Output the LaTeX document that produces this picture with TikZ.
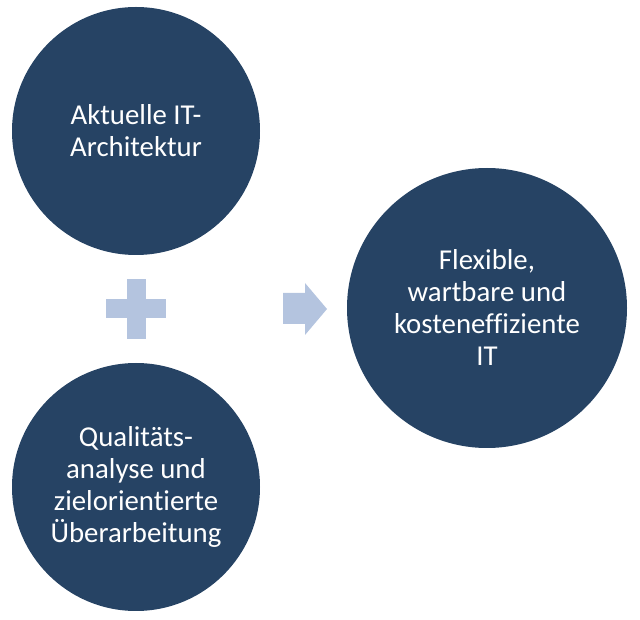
\documentclass[tikz,border=0pt]{standalone}
\usepackage{fontspec}
\setmainfont{Carlito}[Ligatures=NoCommon]
\usepackage{xcolor}
\definecolor{circblue}{HTML}{264364}
\definecolor{signblue}{HTML}{B4C4DF}

\begin{document}
\begin{tikzpicture}[
  x=0.75pt, y=-0.75pt,
  font=\fontsize{21.6}{24}\selectfont,
  goal/.style={circle, fill=circblue, text=white, align=center, inner sep=0pt},
  sign/.style={fill=signblue, draw=none},
]
\useasboundingbox (0,0) rectangle (640,620);
% left column: inputs
\node[goal, minimum size=186pt] (arch) at (136,131) {Aktuelle IT-\\Architektur};
\node[goal, minimum size=186pt] (qual) at (136,487)
      {Qualitäts-\\analyse und\\zielorientierte\\Überarbeitung};
% right: result
\node[goal, minimum size=210pt] (result) at (487,308)
      {Flexible,\\wartbare und\\kosteneffiziente\\IT};
% plus between the inputs
\coordinate (plus) at (136,309);
\fill[sign] ([shift={(-9.5,-30)}]plus) rectangle ([shift={(9.5,30)}]plus);
\fill[sign] ([shift={(-30,-9.5)}]plus) rectangle ([shift={(30,9.5)}]plus);
% arrow to the result
\coordinate (tip) at (327,309);
\fill[sign] (tip) -- ++(-22,-26) -- ++(0,10) -- ++(-22,0) -- ++(0,31)
      -- ++(22,0) -- ++(0,11) -- cycle;
\end{tikzpicture}
\end{document}
